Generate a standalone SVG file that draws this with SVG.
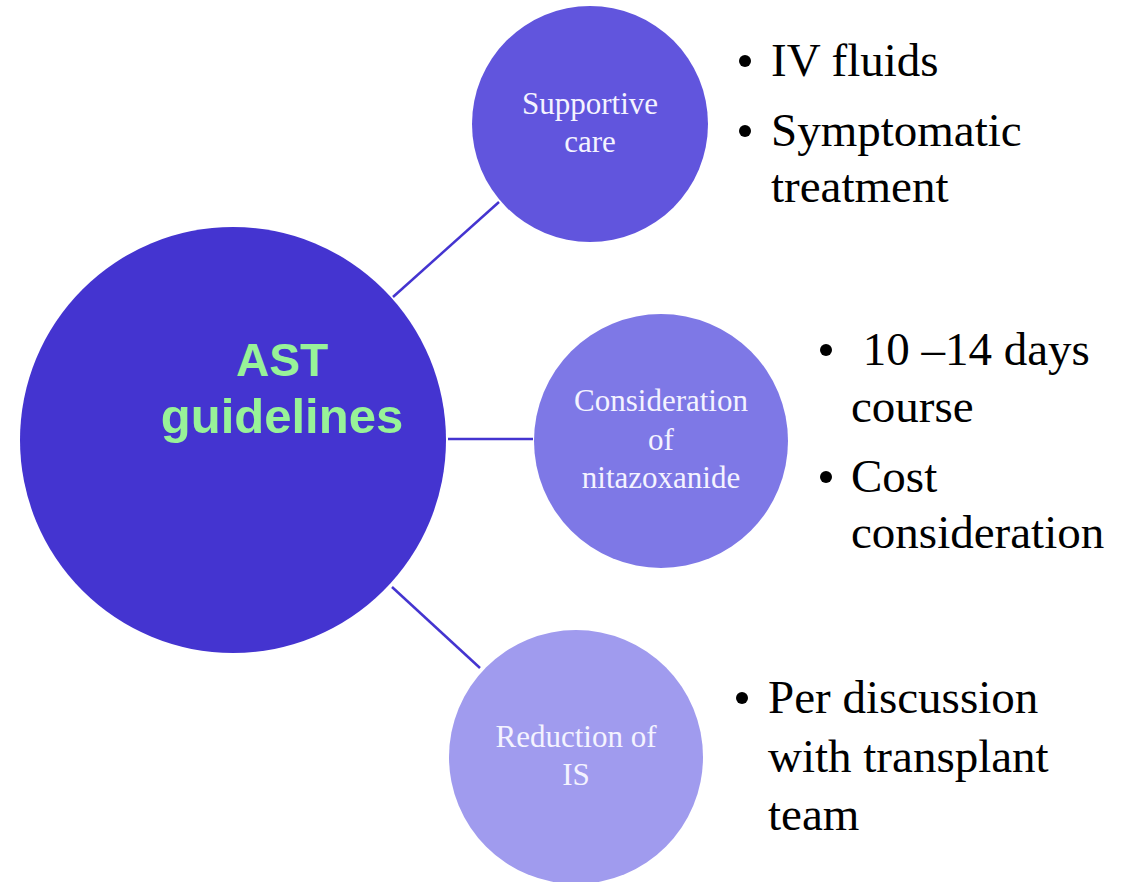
<svg xmlns="http://www.w3.org/2000/svg" width="1138" height="882" viewBox="0 0 1138 882">
  <style>
    .link { stroke: #4434D0; stroke-width: 2.5; fill: none; }
    .label { font-family: "Liberation Serif", "Times New Roman", "DejaVu Serif", serif; font-size: 31px; fill: #F4F3FF; text-anchor: middle; }
    .main { font-family: "Liberation Sans", "DejaVu Sans", sans-serif; font-weight: bold; fill: #98F298; text-anchor: middle; }
    .bullet { font-family: "Liberation Serif", "Times New Roman", "DejaVu Serif", serif; font-size: 47px; fill: #000000; }
    .dot { fill: #000000; }
  </style>
  <rect width="1138" height="882" fill="#FFFFFF"/>

  <g id="connectors">
    <line class="link" x1="393" y1="297" x2="499" y2="202"/>
    <line class="link" x1="448" y1="439" x2="533" y2="439"/>
    <line class="link" x1="392" y1="587" x2="480" y2="668"/>
  </g>

  <g id="ast-guidelines">
    <circle cx="233" cy="440" r="213" fill="#4434D0"/>
    <text class="main" x="282" y="376" font-size="46">AST</text>
    <text class="main" x="282" y="433" font-size="49">guidelines</text>
  </g>

  <g id="supportive-care">
    <circle cx="590" cy="124" r="118" fill="#6155DD"/>
    <text class="label" x="590" y="114">Supportive</text>
    <text class="label" x="590" y="152">care</text>
  </g>

  <g id="nitazoxanide">
    <circle cx="661" cy="441" r="127" fill="#7E78E6"/>
    <text class="label" x="661" y="411">Consideration</text>
    <text class="label" x="661" y="450">of</text>
    <text class="label" x="661" y="488">nitazoxanide</text>
  </g>

  <g id="reduction-is">
    <circle cx="576" cy="757" r="127" fill="#A09BEE"/>
    <text class="label" x="576" y="747">Reduction of</text>
    <text class="label" x="576" y="785">IS</text>
  </g>

  <g id="supportive-care-notes">
    <circle class="dot" cx="745" cy="61" r="6"/>
    <text class="bullet" x="771" y="76">IV fluids</text>
    <circle class="dot" cx="745" cy="131" r="6"/>
    <text class="bullet" x="771" y="146">Symptomatic</text>
    <text class="bullet" x="771" y="202">treatment</text>
  </g>

  <g id="nitazoxanide-notes">
    <circle class="dot" cx="826" cy="350" r="6"/>
    <text class="bullet" x="851" y="365" xml:space="preserve"> 10 –14 days</text>
    <text class="bullet" x="851" y="422">course</text>
    <circle class="dot" cx="826" cy="477" r="6"/>
    <text class="bullet" x="851" y="492">Cost</text>
    <text class="bullet" x="851" y="548">consideration</text>
  </g>

  <g id="reduction-is-notes">
    <circle class="dot" cx="742" cy="698" r="6"/>
    <text class="bullet" x="768" y="713">Per discussion</text>
    <text class="bullet" x="768" y="772">with transplant</text>
    <text class="bullet" x="768" y="830">team</text>
  </g>
</svg>
